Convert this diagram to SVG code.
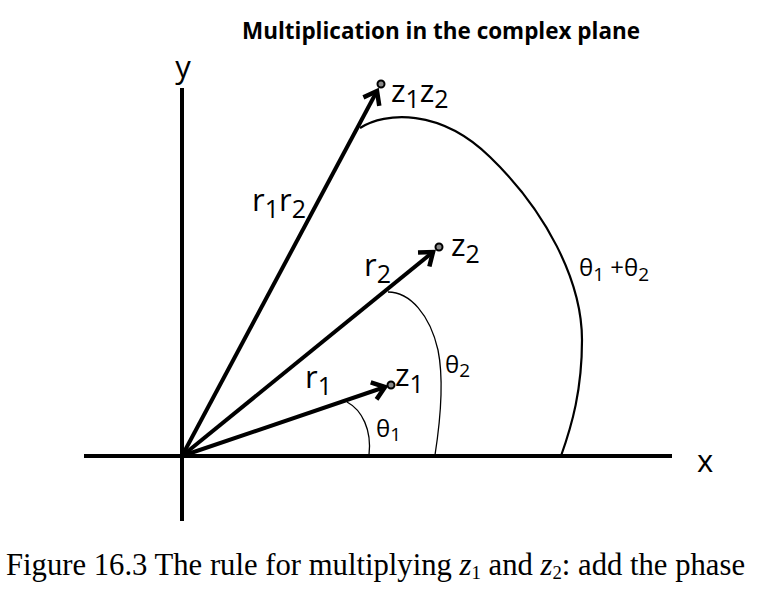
<svg xmlns="http://www.w3.org/2000/svg" width="772" height="597" viewBox="0 0 772 597">
<style>
.ax{stroke:#000;stroke-width:4;fill:none}
.vec{stroke:#000;stroke-width:4;fill:none}
.arc{stroke:#000;fill:none}
.lbl{font-family:"Open Sans","Liberation Sans",sans-serif;font-size:31px;fill:#000}
.sub{font-size:25px}
.th{font-size:24px}
.ths{font-size:19px}
.dot{fill:#888;stroke:#000;stroke-width:2}
</style>
<defs>
<marker id="ah" markerUnits="userSpaceOnUse" markerWidth="26" markerHeight="26" refX="15" refY="11" orient="auto" viewBox="0 0 26 22">
<path d="M3,2 L15,11 L3,20" fill="none" stroke="#000" stroke-width="4.5" stroke-linejoin="miter"/>
</marker>
</defs>
<rect width="772" height="597" fill="#fff"/>
<text x="441" y="39" text-anchor="middle" font-family="'Open Sans','Liberation Sans',sans-serif" font-weight="bold" font-size="24" textLength="398" lengthAdjust="spacingAndGlyphs">Multiplication in the complex plane</text>
<g id="axes">
<line class="ax" x1="182" y1="88" x2="182" y2="521"/>
<line class="ax" x1="84" y1="456" x2="672" y2="456"/>
<text class="lbl" x="183" y="78" text-anchor="middle" font-size="28">y</text>
<text class="lbl" x="705" y="472" text-anchor="middle" font-size="28">x</text>
</g>
<g id="arcs">
<path class="arc" stroke-width="2.2" d="M360,128 C385,112 440,108 490,157 C545,210 582,280 582,340 C582,390 572,425 561,456"/>
<path class="arc" stroke-width="1.3" d="M388,292 C410,292 430,315 438,350 C443,375 442,410 435,455"/>
<path class="arc" stroke-width="1.3" d="M347,402 C362,410 372,430 369,455"/>
</g>
<g id="connectors">
<line class="vec" x1="182" y1="456" x2="377" y2="91" marker-end="url(#ah)"/>
<line class="vec" x1="182" y1="456" x2="433" y2="252" marker-end="url(#ah)"/>
<line class="vec" x1="182" y1="456" x2="385" y2="387" marker-end="url(#ah)"/>
</g>
<g id="z1z2">
<circle class="dot" cx="381" cy="84" r="3.5"/>
<text class="lbl" x="391" y="102">z<tspan class="sub" dy="6">1</tspan><tspan dy="-6">z</tspan><tspan class="sub" dy="6">2</tspan></text>
</g>
<g id="z2">
<circle class="dot" cx="439" cy="247" r="3.5"/>
<text class="lbl" x="451" y="256">z<tspan class="sub" dy="7">2</tspan></text>
</g>
<g id="z1">
<circle class="dot" cx="391" cy="385" r="3.5"/>
<text class="lbl" x="395" y="386">z<tspan class="sub" dy="7">1</tspan></text>
</g>
<g id="labels">
<text class="lbl" x="252" y="211">r<tspan class="sub" dy="7">1</tspan><tspan dy="-7">r</tspan><tspan class="sub" dy="7">2</tspan></text>
<text class="lbl" x="364" y="276">r<tspan class="sub" dy="7">2</tspan></text>
<text class="lbl" x="305" y="388">r<tspan class="sub" dy="7">1</tspan></text>
<text class="lbl th" x="445" y="373">θ<tspan class="ths" dy="4">2</tspan></text>
<text class="lbl th" x="376" y="437">θ<tspan class="ths" dy="4">1</tspan></text>
<text class="lbl th" x="579" y="276">θ<tspan class="ths" dy="5">1</tspan><tspan dy="-5"> +θ</tspan><tspan class="ths" dy="5">2</tspan></text>
</g>
<text x="6" y="575" font-family="'Liberation Serif',serif" font-size="31" textLength="739" lengthAdjust="spacingAndGlyphs">Figure 16.3 The rule for multiplying <tspan font-style="italic">z</tspan><tspan font-size="19" dy="4">1</tspan><tspan dy="-4"> and </tspan><tspan font-style="italic">z</tspan><tspan font-size="19" dy="4">2</tspan><tspan dy="-4">: add the phase</tspan></text>
</svg>
